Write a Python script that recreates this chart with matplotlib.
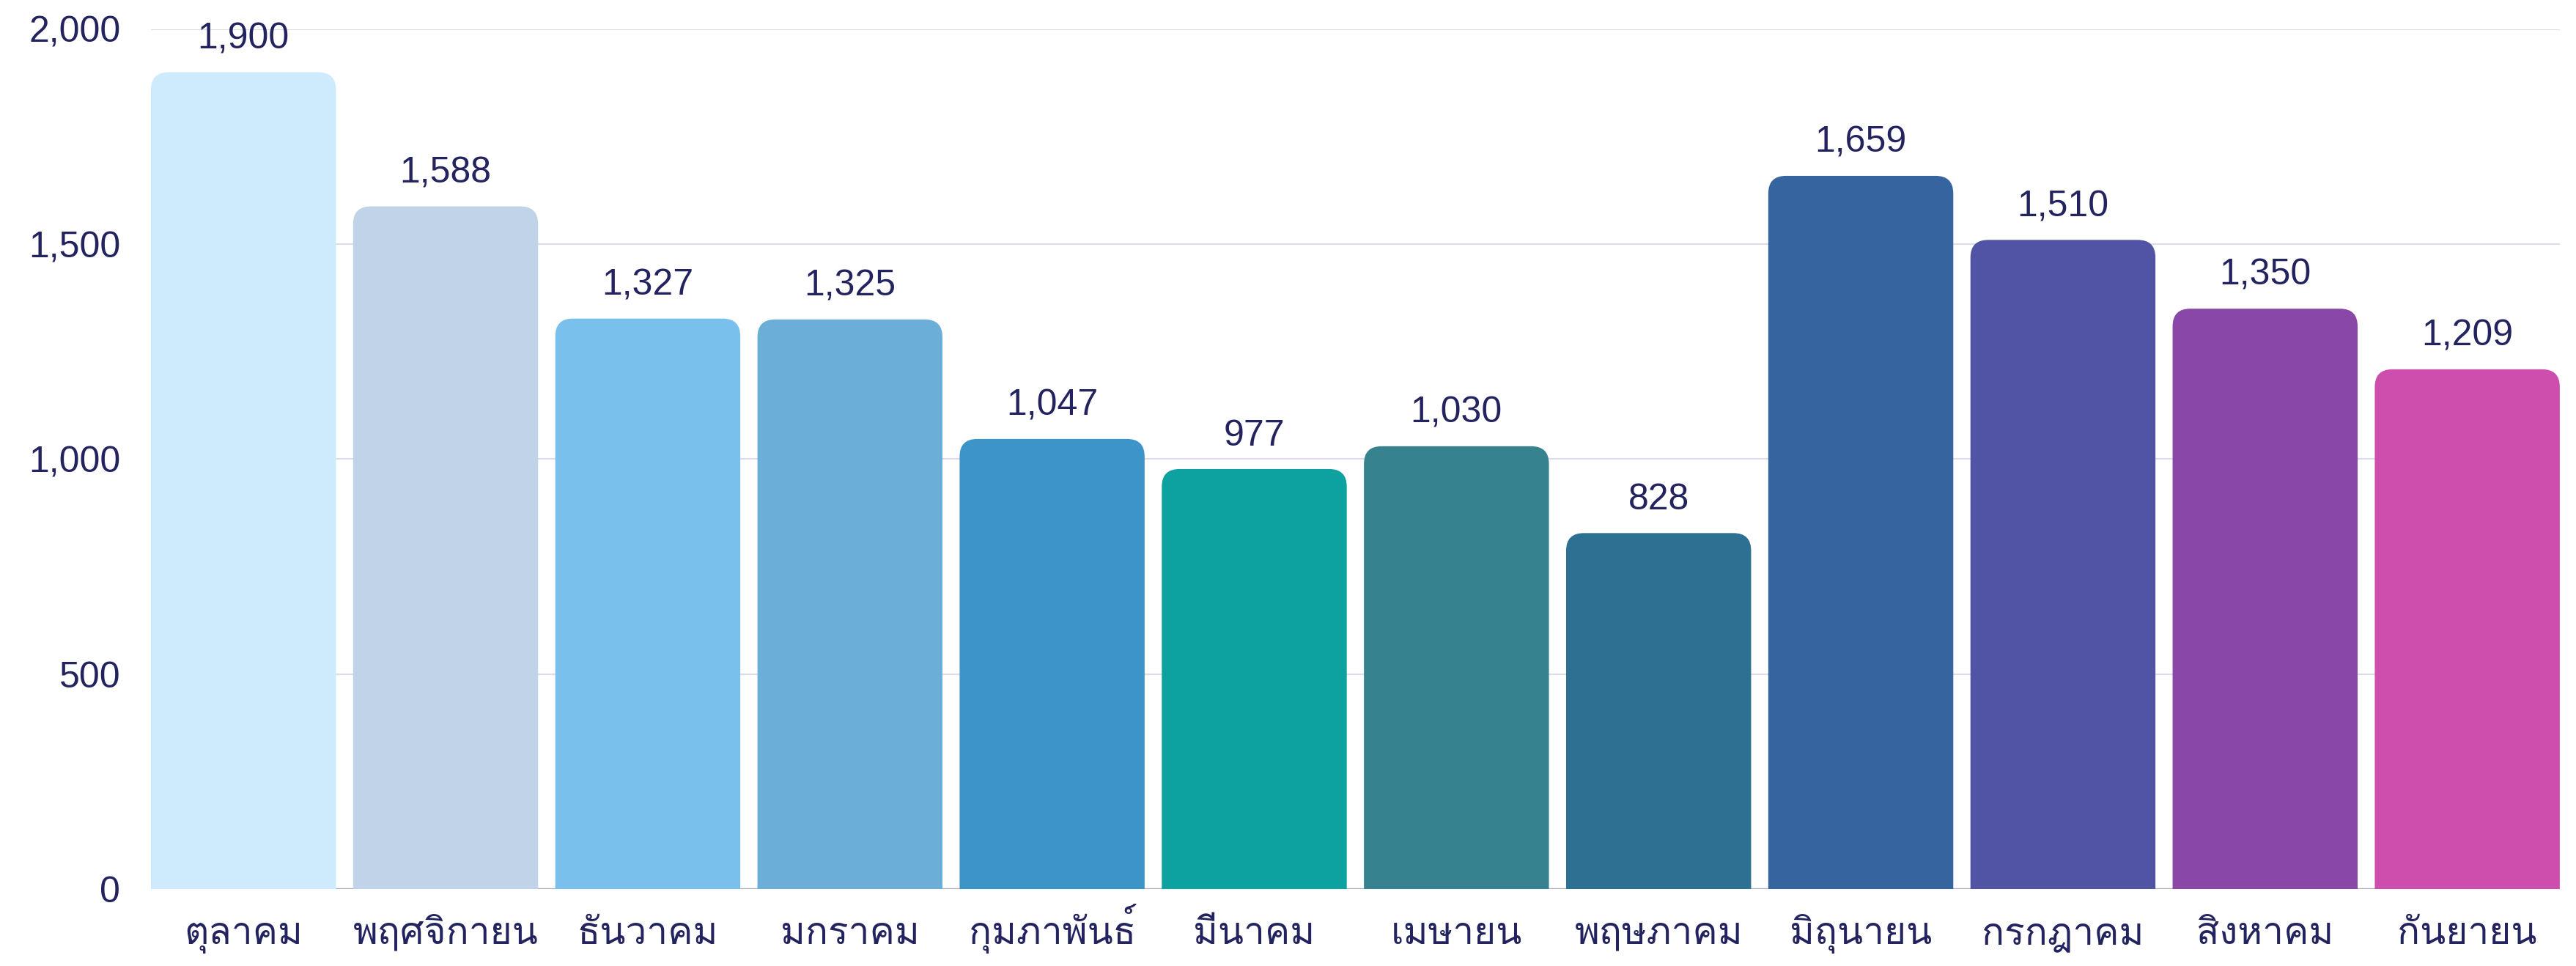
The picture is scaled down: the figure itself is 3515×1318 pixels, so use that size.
import matplotlib
matplotlib.use("Agg")
import matplotlib.pyplot as plt
from matplotlib import font_manager
from matplotlib.ft2font import FT2Font
from matplotlib.patches import FancyBboxPatch
from matplotlib.ticker import FuncFormatter

# data
months = ['ตุลาคม', 'พฤศจิกายน', 'ธันวาคม', 'มกราคม', 'กุมภาพันธ์', 'มีนาคม',
          'เมษายน', 'พฤษภาคม', 'มิถุนายน', 'กรกฎาคม', 'สิงหาคม', 'กันยายน']
counts = [1900, 1588, 1327, 1325, 1047, 977, 1030, 828, 1659, 1510, 1350, 1209]
colors = ['#CDEBFD', '#C1D3E8', '#79C1EC', '#6BAED8', '#3D94C8', '#0DA19F',
          '#36838F', '#2D7092', '#35649F', '#5153A4', '#8947A8', '#CD4EAD']
yticks = [0, 500, 1000, 1500, 2000]

TEXT = '#23235F'
GRID = '#DCDCEA'


def find_thai_font():
    """Look for any installed font that has Thai glyphs."""
    for f in font_manager.fontManager.ttflist:
        try:
            if 0x0E01 in FT2Font(f.fname).get_charmap():
                return f.name
        except Exception:
            continue
    return None


families = ['Liberation Sans']
thai = find_thai_font()
if thai:
    families.append(thai)
families.append('DejaVu Sans')
plt.rcParams['font.family'] = families

fig = plt.figure(figsize=(35.15, 13.18), dpi=100)
ax = fig.add_axes([0.0586, 0.0797, 0.9351, 0.89])

x = list(range(len(months)))
bar_w = 0.915
bars = ax.bar(x, counts, width=bar_w, color=colors, zorder=3)

ax.set_xlim(-bar_w / 2, len(months) - 1 + bar_w / 2)
ax.set_ylim(0, 2000)

# swap the square bars for ones with rounded tops
fig.canvas.draw()
bbox = ax.get_window_extent()
xu = (ax.get_xlim()[1] - ax.get_xlim()[0]) / bbox.width
yu = (ax.get_ylim()[1] - ax.get_ylim()[0]) / bbox.height
r_px = 24
for b in bars:
    b.set_visible(False)
    bx, by = b.get_x(), b.get_y()
    w, h = b.get_width(), b.get_height()
    extra = r_px * yu
    p = FancyBboxPatch((bx, by - extra), w, h + extra,
                       boxstyle=f"round,pad=0,rounding_size={r_px * xu}",
                       mutation_aspect=yu / xu,
                       facecolor=b.get_facecolor(), edgecolor='none', zorder=3)
    ax.add_patch(p)

for xi, v in zip(x, counts):
    ax.annotate(f'{v:,}', (xi, v), xytext=(0, 16), textcoords='offset points',
                ha='center', va='bottom', fontsize=36, color=TEXT,
                annotation_clip=False)

ax.set_yticks(yticks)
ax.yaxis.set_major_formatter(FuncFormatter(lambda v, p: f'{int(v):,}'))
ax.set_xticks(x)
ax.set_xticklabels(months)
ax.tick_params(axis='y', length=0, pad=30, labelsize=36, labelcolor=TEXT)
ax.tick_params(axis='x', length=0, pad=54, labelsize=37, labelcolor=TEXT)
# line the month names up on their baseline, not on their top
for lbl in ax.get_xticklabels():
    lbl.set_verticalalignment('baseline')

ax.grid(axis='y', color=GRID, linewidth=1.6, zorder=0)
ax.axhline(0, color='#A9A9C0', linewidth=1.6, zorder=2)
for s in ax.spines.values():
    s.set_visible(False)

fig.savefig('out.png', dpi=100)
